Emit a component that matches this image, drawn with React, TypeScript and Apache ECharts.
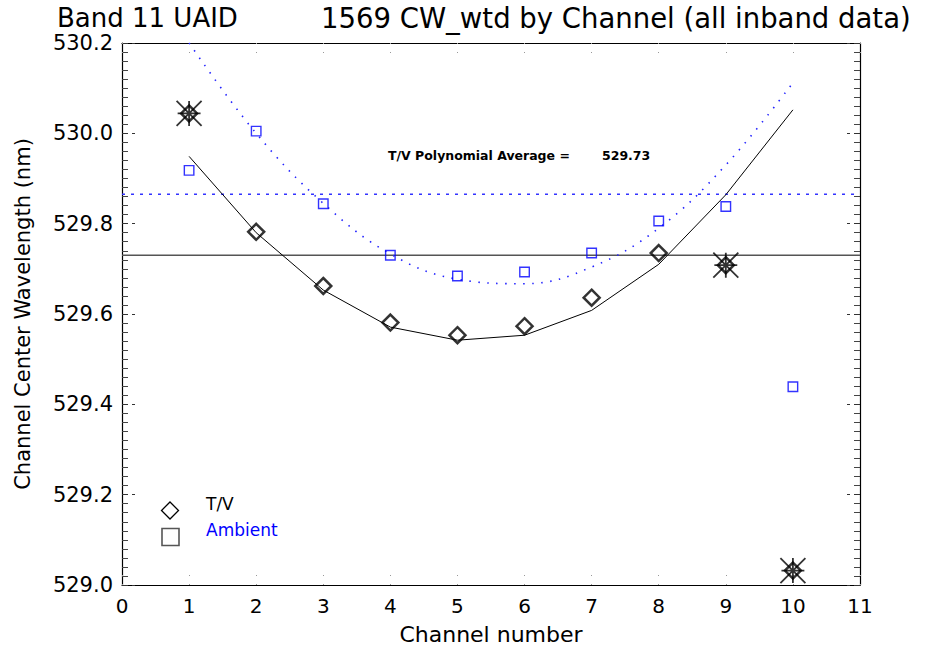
import React, { useEffect, useRef } from "react";
import * as echarts from "echarts";

const FONT = "DejaVu Sans";

const titleLeft = "Band 11 UAID";
const titleRight = "1569 CW_wtd by Channel (all inband data)";
const xAxisName = "Channel number";
const yAxisName = "Channel Center Wavelength (nm)";

const channels = [1, 2, 3, 4, 5, 6, 7, 8, 9, 10];
const tvValues = [530.044, 529.782, 529.662, 529.581, 529.553, 529.573, 529.636, 529.735, 529.708, 529.032];
const ambientValues = [529.918, 530.005, 529.844, 529.73, 529.684, 529.693, 529.735, 529.806, 529.838, 529.439];
const tvFit = [529.949, 529.78, 529.653, 529.571, 529.542, 529.553, 529.608, 529.71, 529.864, 530.052];
const ambientFit = [530.2, 530.0, 529.845, 529.733, 529.677, 529.667, 529.704, 529.79, 529.93, 530.112];
const outlierChannels = [1, 9, 10];
const tvAverage = 529.73;
const ambientAverage = 529.865;

const xMin = 0;
const xMax = 11;
const yMin = 529.0;
const yMax = 530.2;

const ASTERISK = "path://M0 0L24 24M24 0L0 24M12 0L12 24M1 12L23 12";

export default function App() {
  const ref = useRef<HTMLDivElement>(null);

  useEffect(() => {
    if (!ref.current) return;
    const chart = echarts.init(ref.current, undefined, { renderer: "svg" });

    const xAxisBase = {
      type: "value",
      min: xMin,
      max: xMax,
      interval: 1,
      axisLine: { show: true, onZero: false, lineStyle: { color: "#000", width: 1.2 } },
      axisTick: { show: true, inside: true, length: 10, lineStyle: { color: "#999", type: [1, 8], width: 1 } },
      splitLine: { show: false },
    };
    const yAxisBase = {
      type: "value",
      min: yMin,
      max: yMax,
      interval: 0.2,
      axisLine: { show: true, onZero: false, lineStyle: { color: "#000", width: 1.2 } },
      axisTick: { show: true, inside: true, length: 13, lineStyle: { color: "#333", type: [6, 4], width: 1 } },
      minorTick: { show: true, splitNumber: 10, length: 6, lineStyle: { color: "#444", width: 1 } },
      splitLine: { show: false },
    };

    const option: any = {
      animation: false,
      backgroundColor: "#fff",
      title: [
        { text: titleLeft, left: 57, top: 5, padding: 0, textStyle: { fontFamily: FONT, fontSize: 26, fontWeight: "normal", color: "#000" } },
        { text: titleRight, left: 321, top: 4, padding: 0, textStyle: { fontFamily: FONT, fontSize: 27.5, fontWeight: "normal", color: "#000" } },
      ],
      grid: { left: 122, right: 66, top: 43, bottom: 63, containLabel: false },
      xAxis: [
        {
          ...xAxisBase,
          position: "bottom",
          axisLabel: { show: true, fontFamily: FONT, fontSize: 20, color: "#000", margin: 11 },
          name: xAxisName,
          nameLocation: "middle",
          nameGap: 38,
          nameTextStyle: { fontFamily: FONT, fontSize: 22, color: "#000" },
        },
        { ...xAxisBase, position: "top", axisLabel: { show: false } },
      ],
      yAxis: [
        {
          ...yAxisBase,
          position: "left",
          axisLabel: {
            show: true,
            fontFamily: FONT,
            fontSize: 21,
            color: "#000",
            margin: 9,
            formatter: (v: number) => v.toFixed(1),
          },
          name: yAxisName,
          nameLocation: "middle",
          nameGap: 89,
          nameTextStyle: { fontFamily: FONT, fontSize: 21, color: "#000" },
        },
        { ...yAxisBase, position: "right", axisLabel: { show: false } },
      ],
      series: [
        {
          name: "TV average",
          type: "line",
          data: [[xMin, tvAverage], [xMax, tvAverage]],
          symbol: "none",
          lineStyle: { color: "#555", width: 1.6 },
          silent: true,
          z: 1,
        },
        {
          name: "Ambient average",
          type: "line",
          data: [[xMin, ambientAverage], [xMax, ambientAverage]],
          symbol: "none",
          lineStyle: { color: "#3333ff", width: 1.4, type: [3, 6] },
          silent: true,
          z: 1,
        },
        {
          name: "Ambient fit",
          type: "line",
          data: channels.map((c, i) => [c, ambientFit[i]]),
          symbol: "none",
          smooth: 0.4,
          lineStyle: { color: "#2222ff", width: 1.6, type: [1.5, 7.5] },
          silent: true,
          z: 2,
        },
        {
          name: "TV fit",
          type: "line",
          data: channels.map((c, i) => [c, tvFit[i]]),
          symbol: "none",
          lineStyle: { color: "#000", width: 1 },
          silent: true,
          z: 2,
        },
        {
          name: "Ambient",
          type: "scatter",
          data: channels.map((c, i) => [c, ambientValues[i]]),
          symbol: "rect",
          symbolSize: 9.5,
          itemStyle: { color: "transparent", borderColor: "#0000ff", borderWidth: 1.4 },
          z: 3,
        },
        {
          name: "T/V",
          type: "scatter",
          data: channels.map((c, i) => [c, tvValues[i]]),
          symbol: "diamond",
          symbolSize: 16,
          itemStyle: { color: "transparent", borderColor: "#000", borderWidth: 2.5 },
          z: 4,
        },
        {
          name: "Outliers",
          type: "scatter",
          data: outlierChannels.map((c) => [c, tvValues[channels.indexOf(c)]]),
          symbol: ASTERISK,
          symbolSize: 25,
          itemStyle: { color: "transparent", borderColor: "#000", borderWidth: 1.8 },
          z: 5,
        },
      ],
      graphic: [
        {
          type: "text",
          left: 388,
          top: 149,
          style: {
            text: "T/V Polynomial Average =",
            fontFamily: FONT,
            fontSize: 12.5,
            fontWeight: "bold",
            fill: "#000",
          },
        },
        {
          type: "text",
          left: 602,
          top: 149,
          style: {
            text: tvAverage.toFixed(2),
            fontFamily: FONT,
            fontSize: 12.5,
            fontWeight: "bold",
            fill: "#000",
          },
        },
        {
          type: "polygon",
          shape: { points: [[170, 502], [178.5, 510.5], [170, 519], [161.5, 510.5]] },
          style: { fill: "none", stroke: "#000", lineWidth: 1.3 },
        },
        {
          type: "rect",
          shape: { x: 162, y: 528.5, width: 17, height: 17 },
          style: { fill: "none", stroke: "#555", lineWidth: 1.6 },
        },
        {
          type: "text",
          left: 206,
          top: 495,
          style: { text: "T/V", fontFamily: FONT, fontSize: 17, fill: "#000" },
        },
        {
          type: "text",
          left: 206,
          top: 521,
          style: { text: "Ambient", fontFamily: FONT, fontSize: 17, fill: "#0000ff" },
        },
      ],
    };

    chart.setOption(option);
    return () => chart.dispose();
  }, []);

  return (
    <div
      ref={ref}
      style={{ position: "fixed", left: 0, top: 0, width: 926, height: 650, background: "#fff" }}
    />
  );
}
